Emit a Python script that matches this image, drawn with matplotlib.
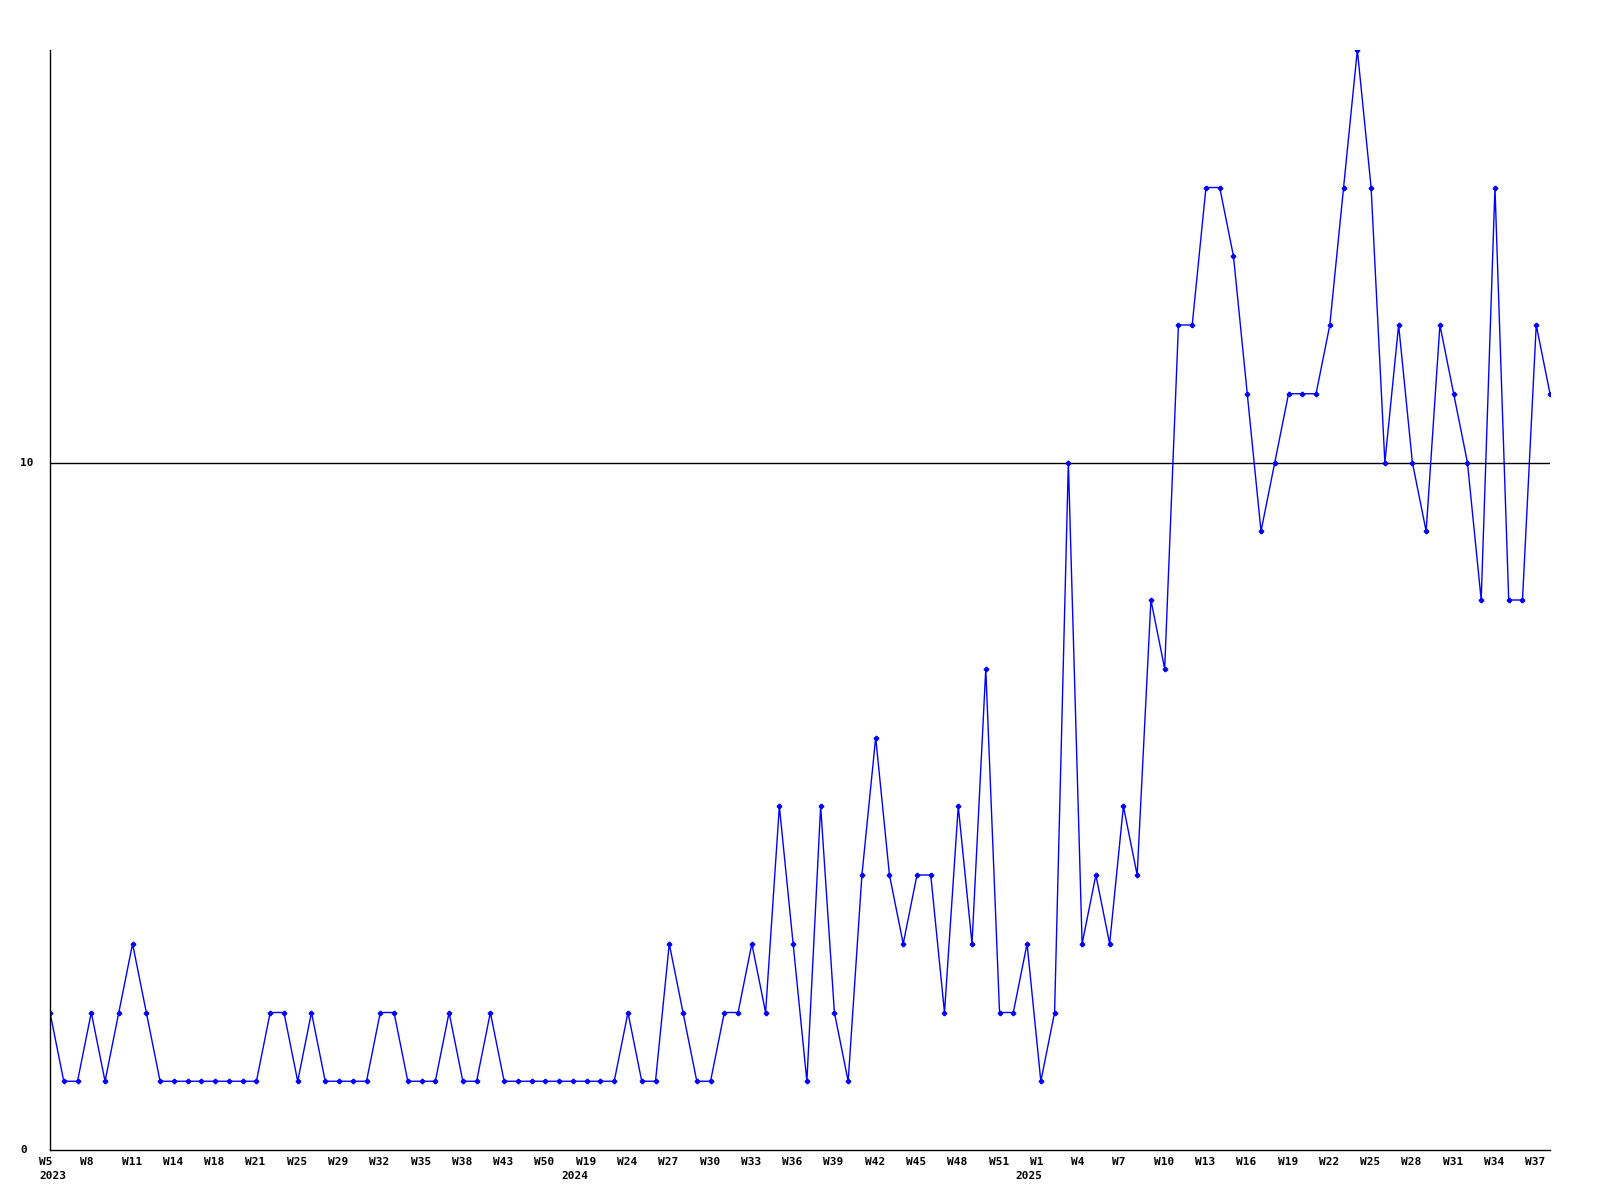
import matplotlib
matplotlib.use('Agg')
import matplotlib.pyplot as plt
import matplotlib.transforms as mtransforms

# weekly counts, one point per week that has data
values = [2, 1, 1, 2, 1, 2, 3, 2, 1, 1,
          1, 1, 1, 1, 1, 1, 2, 2, 1, 2,
          1, 1, 1, 1, 2, 2, 1, 1, 1, 2,
          1, 1, 2, 1, 1, 1, 1, 1, 1, 1,
          1, 1, 2, 1, 1, 3, 2, 1, 1, 2,
          2, 3, 2, 5, 3, 1, 5, 2, 1, 4,
          6, 4, 3, 4, 4, 2, 5, 3, 7, 2,
          2, 3, 1, 2, 10, 3, 4, 3, 5, 4,
          8, 7, 12, 12, 14, 14, 13, 11, 9, 10,
          11, 11, 11, 12, 14, 16, 14, 10, 12, 10,
          9, 12, 11, 10, 8, 14, 8, 8, 12, 11]

tick_labels = ['W5', 'W8', 'W11', 'W14', 'W18', 'W21', 'W25', 'W29', 'W32', 'W35',
               'W38', 'W43', 'W50', 'W19', 'W24', 'W27', 'W30', 'W33', 'W36', 'W39',
               'W42', 'W45', 'W48', 'W51', 'W1', 'W4', 'W7', 'W10', 'W13', 'W16',
               'W19', 'W22', 'W25', 'W28', 'W31', 'W34', 'W37']
tick_pos = list(range(0, 3 * len(tick_labels), 3))

years = ['2023', '2024', '2025']
year_pos = [0, 39, 72]

font = {'family': 'DejaVu Sans Mono', 'weight': 'bold', 'size': 8}

fig = plt.figure(figsize=(16, 12), dpi=100)
ax = fig.add_axes([50 / 1600, 50 / 1200, 1500 / 1600, 1100 / 1200])

x = list(range(len(values)))
ax.axhline(10, color='black', lw=1, zorder=1)
ax.plot(x, values, color='#0000ff', lw=1, marker='P', markersize=3, zorder=2)

ax.set_xlim(0, len(values) - 1)
ax.set_ylim(0, 16)
for s in ['top', 'right']:
    ax.spines[s].set_visible(False)
for s in ['left', 'bottom']:
    ax.spines[s].set_color('black')
    ax.spines[s].set_linewidth(1)
ax.set_xticks([])
ax.set_yticks([])

base = mtransforms.blended_transform_factory(ax.transData, ax.transAxes)
# week labels: left edge sits about 11 px left of the point
shift = mtransforms.ScaledTranslation(-11 / 100, 0, fig.dpi_scale_trans)
for lab, p in zip(tick_labels, tick_pos):
    ax.text(p, -0.0105, lab, transform=base + shift, ha='left', va='center',
            clip_on=False, **font)

for yr, p in zip(years, year_pos):
    off = -11 if p == 0 else -25
    tr = base + mtransforms.ScaledTranslation(off / 100, 0, fig.dpi_scale_trans)
    ax.text(p, -0.024, yr, transform=tr, ha='left', va='center', clip_on=False, **font)

ytr = mtransforms.blended_transform_factory(mtransforms.IdentityTransform(), ax.transData)
for v in [0, 10]:
    ax.text(20, v, str(v), transform=ytr, ha='left', va='center', **font)

fig.savefig('out.png', dpi=100)
